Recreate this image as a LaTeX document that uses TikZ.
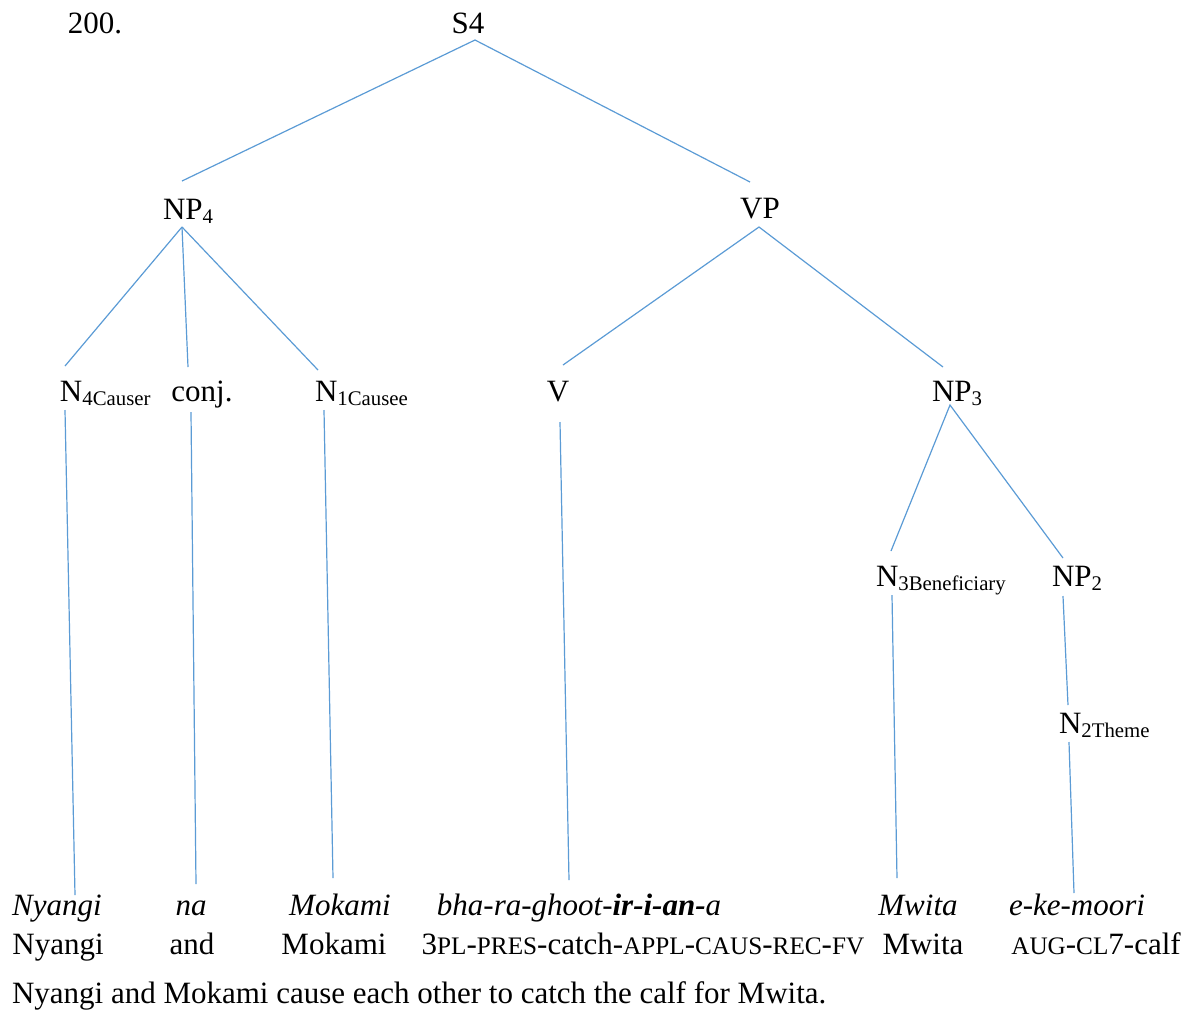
\documentclass[tikz,border=0pt]{standalone}
\usepackage{fontspec}
\setmainfont{Liberation Serif}
\definecolor{branch}{HTML}{5B9BD5}
% lowered index after a category label
\newcommand\subx[1]{\raisebox{-2pt}{\fontsize{10.4pt}{12pt}\selectfont #1}}
% small capitals for gloss abbreviations
\newcommand\smc[1]{{\fontsize{12.6pt}{14pt}\selectfont #1}}
\begin{document}
\begin{tikzpicture}[x=0.5pt,y=-0.5pt,
  every node/.style={inner sep=0pt,outer sep=0pt,font=\fontsize{15.5pt}{18pt}\selectfont},
  lbl/.style={anchor=base},
  lblw/.style={anchor=base west},
  branch/.style={draw=branch,line width=0.6pt}]
\useasboundingbox (0,0) rectangle (1190,1014);

% example number and root
\node[lbl] (num) at (95,33) {200.};
\node[lbl] (s4) at (468,33) {S4};

% phrase level
\node[lblw] (np4) at (163,219) {NP\subx{4}};
\node[lbl] (vp) at (760,218) {VP};

% word level
\node[lblw] (n4) at (60,401) {N\subx{4Causer}};
\node[lbl] (conj) at (202,401) {conj.};
\node[lblw] (n1) at (315,401) {N\subx{1Causee}};
\node[lbl] (v) at (558,401) {V};
\node[lblw] (np3) at (932,401) {NP\subx{3}};
\node[lblw] (n3) at (876,586) {N\subx{3Beneficiary}};
\node[lblw] (np2) at (1052,586) {NP\subx{2}};
\node[lblw] (n2) at (1059,733) {N\subx{2Theme}};

% object-language words
\node[lbl] (w1) at (57,915) {\itshape Nyangi};
\node[lbl] (w2) at (191,915) {\itshape na};
\node[lbl] (w3) at (340,915) {\itshape Mokami};
\node[lbl] (w4) at (579,915) {\itshape bha-ra-ghoot-\textbf{ir-i-an-}a};
\node[lbl] (w5) at (918,915) {\itshape Mwita};
\node[lbl] (w6) at (1077,915) {\itshape e-ke-moori};

% glosses
\node[lbl] (g1) at (58,954) {Nyangi};
\node[lbl] (g2) at (192,954) {and};
\node[lbl] (g3) at (334,954) {Mokami};
\node[lbl] (g4) at (643,954) {3\smc{PL}-\smc{PRES}-catch-\smc{APPL}-\smc{CAUS}-\smc{REC}-\smc{FV}};
\node[lbl] (g5) at (923,954) {Mwita};
\node[lbl] (g6) at (1096,954) {\smc{AUG}-\smc{CL}7-calf};

% free translation
\node[lblw] (tr) at (12,1003) {Nyangi and Mokami cause each other to catch the calf for Mwita.};

% branch end points
\coordinate (s4-b) at (475,40);
\coordinate (np4-t) at (182,181);
\coordinate (vp-t) at (750,182);
\coordinate (np4-b) at (182,227);
\coordinate (n4-t) at (65,366);
\coordinate (conj-t) at (188,367);
\coordinate (n1-t) at (318,370);
\coordinate (vp-b) at (759,227);
\coordinate (v-t) at (563,365);
\coordinate (np3-t) at (943,367);
\coordinate (n4-b) at (65,410);
\coordinate (w1-t) at (75,895);
\coordinate (conj-b) at (191,412);
\coordinate (w2-t) at (196,884);
\coordinate (n1-b) at (324,410);
\coordinate (w3-t) at (333,878);
\coordinate (v-b) at (560,422);
\coordinate (w4-t) at (569,880);
\coordinate (np3-b) at (950,405);
\coordinate (n3-t) at (891,551);
\coordinate (np2-t) at (1063,558);
\coordinate (n3-b) at (892,595);
\coordinate (w5-t) at (897,878);
\coordinate (np2-b) at (1063,596);
\coordinate (n2-t) at (1068,705);
\coordinate (n2-b) at (1069,742);
\coordinate (w6-t) at (1074,893);

% branches
\draw[branch] (np4-t) -- (s4-b) -- (vp-t);
\draw[branch] (np4-b) -- (n4-t);
\draw[branch] (np4-b) -- (conj-t);
\draw[branch] (np4-b) -- (n1-t);
\draw[branch] (v-t) -- (vp-b) -- (np3-t);
\draw[branch] (n4-b) -- (w1-t);
\draw[branch] (conj-b) -- (w2-t);
\draw[branch] (n1-b) -- (w3-t);
\draw[branch] (v-b) -- (w4-t);
\draw[branch] (n3-t) -- (np3-b) -- (np2-t);
\draw[branch] (n3-b) -- (w5-t);
\draw[branch] (np2-b) -- (n2-t);
\draw[branch] (n2-b) -- (w6-t);
\end{tikzpicture}
\end{document}
